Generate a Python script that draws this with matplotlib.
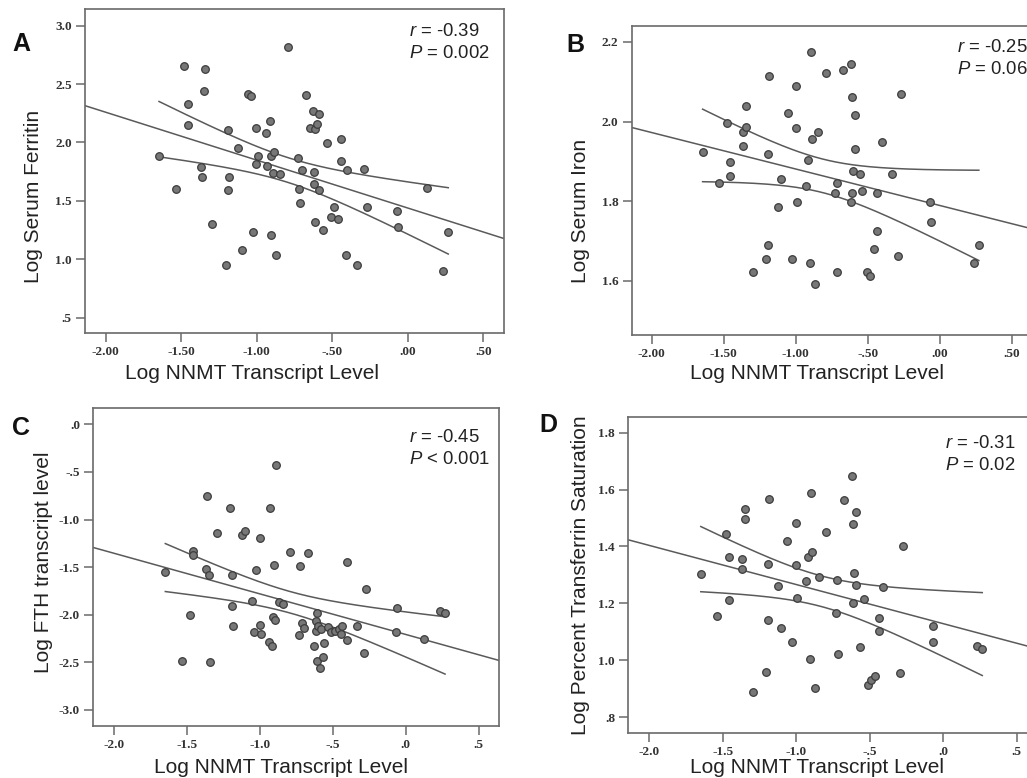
import numpy as np
import matplotlib
matplotlib.use("Agg")
import matplotlib.pyplot as plt

plt.rcParams["mathtext.fontset"] = "custom"
plt.rcParams["mathtext.it"] = "Liberation Sans:italic"
plt.rcParams["mathtext.rm"] = "Liberation Sans"

# ---------------- data ----------------
a_x = [-1.647, -1.534, -1.479, -1.457, -1.453, -1.367, -1.365, -1.345, -1.347, -1.296,
       -1.206, -1.190, -1.190, -1.181, -1.124, -1.100, -1.058, -1.038, -1.025, -1.003,
       -0.992, -1.003, -0.936, -0.932, -0.914, -0.906, -0.906, -0.886, -0.895, -0.870,
       -0.846, -0.793, -0.727, -0.722, -0.714, -0.700, -0.672, -0.647, -0.628, -0.612,
       -0.603, -0.590, -0.619, -0.621, -0.612, -0.590, -0.561, -0.537, -0.511, -0.486,
       -0.462, -0.440, -0.440, -0.405, -0.407, -0.336, -0.290, -0.272, -0.072, -0.063,
       0.127, 0.233, 0.268]
a_y = [1.881, 1.602, 2.655, 2.327, 2.150, 1.793, 1.707, 2.626, 2.438, 1.302,
       0.954, 2.104, 1.590, 1.707, 1.950, 1.079, 2.418, 2.401, 1.231, 2.124,
       1.881, 1.818, 2.081, 1.801, 2.184, 1.205, 1.887, 1.916, 1.741, 1.039,
       1.727, 2.814, 1.864, 1.602, 1.479, 1.761, 2.406, 2.121, 2.267, 2.115,
       2.155, 2.247, 1.750, 1.647, 1.322, 1.590, 1.253, 1.998, 1.362, 1.445,
       1.342, 2.033, 1.838, 1.761, 1.039, 0.954, 1.776, 1.445, 1.413, 1.279,
       1.613, 0.902, 1.231]

b_x = [-1.647, -1.536, -1.478, -1.455, -1.457, -1.369, -1.367, -1.346, -1.344, -1.295,
       -1.207, -1.191, -1.191, -1.184, -1.123, -1.100, -1.056, -1.024, -1.000, -1.000,
       -0.994, -0.931, -0.915, -0.903, -0.894, -0.887, -0.868, -0.843, -0.794, -0.727,
       -0.717, -0.711, -0.671, -0.616, -0.611, -0.620, -0.611, -0.602, -0.590, -0.588,
       -0.558, -0.539, -0.509, -0.488, -0.460, -0.437, -0.437, -0.404, -0.335, -0.291,
       -0.272, -0.066, -0.059, 0.236, 0.270]
b_y = [1.924, 1.846, 1.996, 1.898, 1.864, 1.974, 1.939, 1.986, 2.038, 1.623,
       1.654, 1.690, 1.919, 2.115, 1.785, 1.857, 2.022, 1.654, 1.983, 2.090,
       1.799, 1.839, 1.903, 1.644, 2.174, 1.955, 1.592, 1.973, 2.121, 1.820,
       1.846, 1.623, 2.130, 2.144, 2.061, 1.799, 1.820, 1.876, 1.930, 2.017,
       1.869, 1.826, 1.623, 1.613, 1.681, 1.820, 1.725, 1.949, 1.869, 1.663,
       2.068, 1.799, 1.748, 1.644, 1.690]

c_x = [-1.650, -1.538, -1.481, -1.458, -1.458, -1.371, -1.366, -1.348, -1.346, -1.298,
       -1.209, -1.193, -1.190, -1.183, -1.126, -1.101, -1.058, -1.039, -1.028, -1.003,
       -1.003, -0.991, -0.934, -0.936, -0.918, -0.911, -0.904, -0.898, -0.888, -0.870,
       -0.845, -0.792, -0.731, -0.724, -0.712, -0.701, -0.671, -0.628, -0.618, -0.616,
       -0.609, -0.607, -0.602, -0.591, -0.584, -0.568, -0.559, -0.536, -0.513, -0.484,
       -0.461, -0.447, -0.438, -0.406, -0.403, -0.337, -0.289, -0.273, -0.067, -0.063,
       0.127, 0.237, 0.269]
c_y = [-1.547, -2.482, -2.002, -1.327, -1.369, -1.523, -0.756, -1.582, -2.499, -1.145,
       -0.882, -1.586, -1.908, -2.121, -1.166, -1.124, -1.855, -2.184, -1.526, -1.194,
       -2.111, -2.198, -0.882, -2.282, -2.331, -2.027, -1.481, -2.058, -0.431, -1.869,
       -1.887, -1.344, -2.209, -1.488, -2.086, -2.135, -1.355, -2.328, -2.174, -2.065,
       -1.978, -2.485, -2.114, -2.559, -2.146, -2.440, -2.300, -2.132, -2.184, -2.167,
       -2.153, -2.205, -2.121, -2.268, -1.446, -2.121, -2.401, -1.733, -2.184, -1.932,
       -2.254, -1.957, -1.985]

d_x = [-1.648, -1.536, -1.480, -1.457, -1.459, -1.370, -1.366, -1.345, -1.348, -1.295,
       -1.207, -1.193, -1.191, -1.182, -1.125, -1.100, -1.059, -1.025, -1.002, -1.002,
       -0.993, -0.934, -0.918, -0.907, -0.898, -0.889, -0.873, -0.845, -0.795, -0.730,
       -0.723, -0.714, -0.673, -0.618, -0.611, -0.605, -0.611, -0.593, -0.591, -0.564,
       -0.539, -0.511, -0.491, -0.464, -0.439, -0.439, -0.407, -0.293, -0.273, -0.070,
       -0.066, 0.232, 0.266]
d_y = [1.302, 1.155, 1.445, 1.364, 1.210, 1.355, 1.319, 1.533, 1.498, 0.887,
       0.957, 1.140, 1.338, 1.568, 1.261, 1.114, 1.418, 1.064, 1.481, 1.333,
       1.217, 1.279, 1.364, 1.003, 1.587, 1.381, 0.903, 1.292, 1.452, 1.165,
       1.282, 1.023, 1.564, 1.649, 1.478, 1.308, 1.200, 1.265, 1.522, 1.045,
       1.215, 0.913, 0.931, 0.944, 1.147, 1.104, 1.256, 0.955, 1.403, 1.063,
       1.119, 1.051, 1.039]

panel_letters = ["A", "B", "C", "D"]
y_labels = ["Log Serum Ferritin", "Log Serum Iron",
            "Log FTH transcript level", "Log Percent Transferrin Saturation"]
x_label = "Log NNMT Transcript Level"
r_texts = ["-0.39", "-0.25", "-0.45", "-0.31"]
p_texts = ["= 0.002", "= 0.06", "< 0.001", "= 0.02"]

xticks_ab = [-2.0, -1.5, -1.0, -0.5, 0.0, 0.5]
xticklabels_ab = ["-2.00", "-1.50", "-1.00", "-.50", ".00", ".50"]
xticklabels_cd = ["-2.0", "-1.5", "-1.0", "-.5", ".0", ".5"]
yticks_a = [0.5, 1.0, 1.5, 2.0, 2.5, 3.0]
yticklabels_a = [".5", "1.0", "1.5", "2.0", "2.5", "3.0"]
yticks_b = [1.6, 1.8, 2.0, 2.2]
yticklabels_b = ["1.6", "1.8", "2.0", "2.2"]
yticks_c = [-3.0, -2.5, -2.0, -1.5, -1.0, -0.5, 0.0]
yticklabels_c = ["-3.0", "-2.5", "-2.0", "-1.5", "-1.0", "-.5", ".0"]
yticks_d = [0.8, 1.0, 1.2, 1.4, 1.6, 1.8]
yticklabels_d = [".8", "1.0", "1.2", "1.4", "1.6", "1.8"]

# ---------------- layout (pixel positions) ----------------
fig = plt.figure(figsize=(10.27, 7.78), dpi=100)
W, H = 1027.0, 778.0

def box(l, t, r, b):
    return [l / W, 1 - b / H, (r - l) / W, (b - t) / H]

def fx(px):
    return px / W

def fy(py):
    return 1 - py / H

rects = [box(85, 9.3, 504, 333), box(631.7, 26, 1028, 335),
         box(93.3, 408.3, 499, 725.7), box(628.3, 417.3, 1028, 732.7)]
xlims = [(-2.137, 0.637), (-2.139, 0.611), (-2.144, 0.639), (-2.141, 0.577)]
ylims = [(0.369, 3.14), (1.464, 2.24), (-3.165, 0.168), (0.745, 1.854)]
xs = [a_x, b_x, c_x, d_x]
ys = [a_y, b_y, c_y, d_y]
yt = [(yticks_a, yticklabels_a), (yticks_b, yticklabels_b),
      (yticks_c, yticklabels_c), (yticks_d, yticklabels_d)]
xtl = [xticklabels_ab, xticklabels_ab, xticklabels_cd, xticklabels_cd]
letter_pos = [(12, 44), (566, 45), (12, 428), (539, 425)]
stat_pos = [(409, 31, 53), (957, 48, 70), (409, 438, 460), (945, 443, 465)]
xlabel_pos = [(252, 379), (817, 379), (281, 773), (817, 773)]
ylabel_pos = [(34, 196), (581, 211), (44, 562), (581, 575)]

spine_c = "#6a6a6a"
line_c = "#5a5a5a"
T_CRIT = 2.0

for i in range(4):
    ax = fig.add_axes(rects[i])
    x = np.array(xs[i]); y = np.array(ys[i])
    ax.scatter(x, y, s=30, facecolor="#777777", edgecolor="#3c3c3c",
               linewidth=0.9, zorder=3)
    # linear fit + 95% mean confidence band
    n = len(x)
    slope, icpt = np.polyfit(x, y, 1)
    resid = y - (icpt + slope * x)
    s = np.sqrt(np.sum(resid ** 2) / (n - 2))
    xbar = x.mean(); sxx = np.sum((x - xbar) ** 2)
    xl = np.linspace(xlims[i][0], xlims[i][1], 200)
    ax.plot(xl, icpt + slope * xl, color=line_c, lw=1.1, zorder=2)
    xc = np.linspace(x.min(), x.max(), 200)
    half = T_CRIT * s * np.sqrt(1.0 / n + (xc - xbar) ** 2 / sxx)
    ax.plot(xc, icpt + slope * xc + half, color=line_c, lw=1.1, zorder=2)
    ax.plot(xc, icpt + slope * xc - half, color=line_c, lw=1.1, zorder=2)

    ax.set_xlim(*xlims[i]); ax.set_ylim(*ylims[i])
    ax.set_xticks(xticks_ab)
    ax.set_xticklabels(xtl[i])
    ax.set_yticks(yt[i][0]); ax.set_yticklabels(yt[i][1])
    for sp in ax.spines.values():
        sp.set_color(spine_c); sp.set_linewidth(1.2)
    ax.tick_params(direction="out", length=6.5, width=1.1, color=spine_c,
                   labelcolor="#333333", pad=3)
    for lab in ax.get_xticklabels() + ax.get_yticklabels():
        lab.set_fontfamily("Liberation Serif")
        lab.set_fontweight("bold")
        lab.set_fontsize(9.5)

    xx, xy = xlabel_pos[i]
    fig.text(fx(xx), fy(xy), x_label, family="Liberation Sans", fontsize=15,
             color="#222222", ha="center", va="baseline")
    yx, yy = ylabel_pos[i]
    fig.text(fx(yx), fy(yy), y_labels[i], family="Liberation Sans", fontsize=15,
             color="#222222", ha="center", va="center", rotation=90)

    sx, sy1, sy2 = stat_pos[i]
    fig.text(fx(sx), fy(sy1), "$\\mathit{r}$ = " + r_texts[i], family="Liberation Sans",
             fontsize=13.3, color="#222222", ha="left", va="center")
    fig.text(fx(sx), fy(sy2), "$\\mathit{P}$ " + p_texts[i], family="Liberation Sans",
             fontsize=13.3, color="#222222", ha="left", va="center")

    lx, ly = letter_pos[i]
    fig.text(fx(lx), fy(ly), panel_letters[i], family="Liberation Sans",
             fontweight="bold", fontsize=18, ha="left", va="center", color="#111111")

fig.savefig("out.png", dpi=100)
